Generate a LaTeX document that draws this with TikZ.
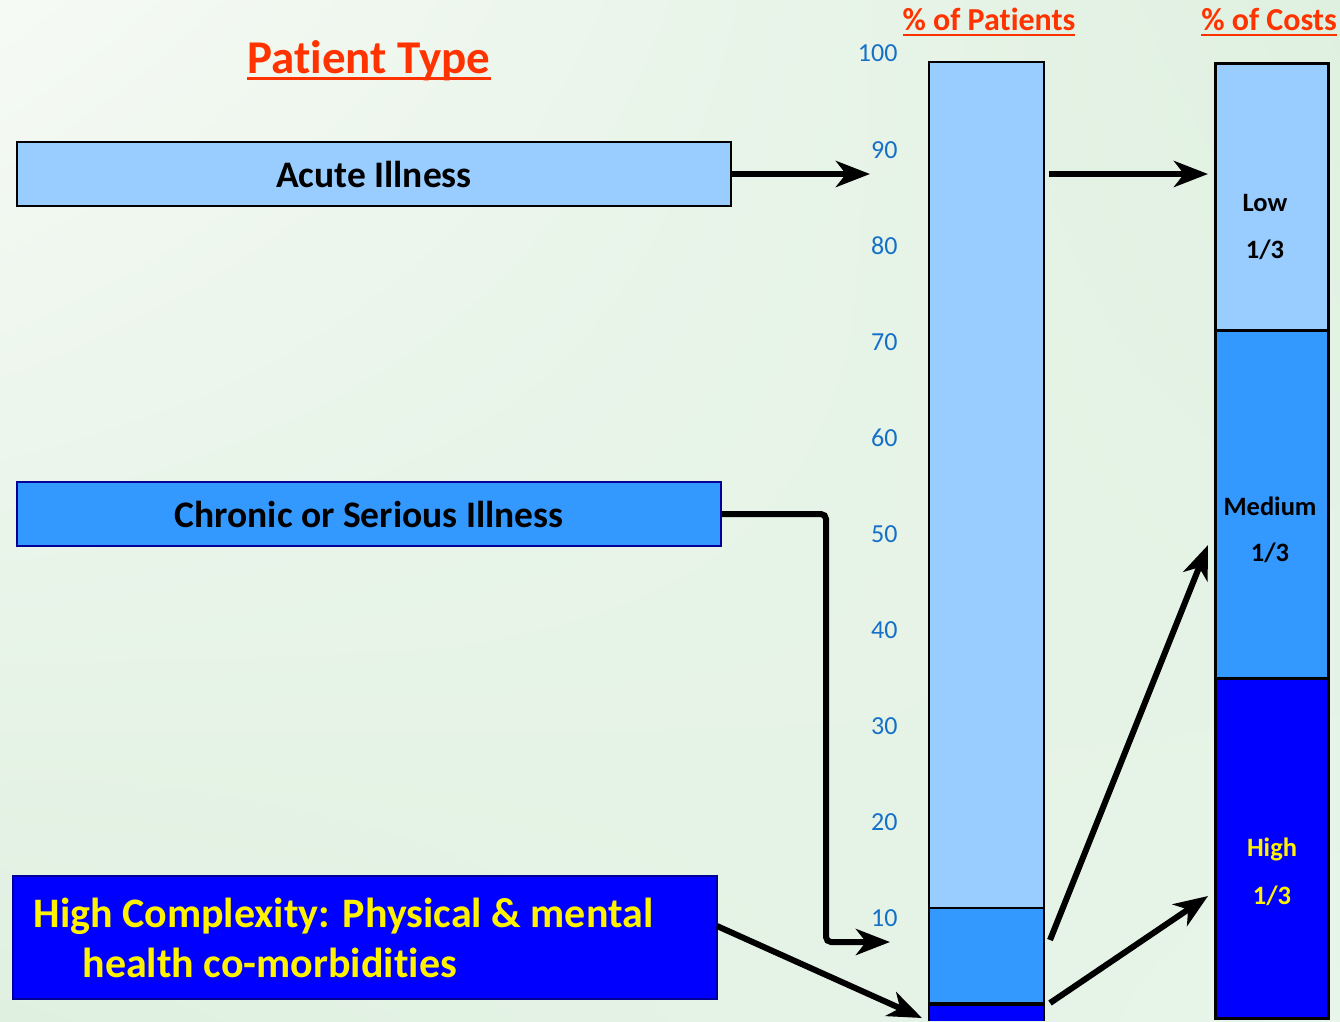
\documentclass[tikz,border=0pt]{standalone}
\usepackage{fontspec}
\setmainfont[Ligatures=NoCommon]{Carlito}
\usepackage{xcolor}
\usetikzlibrary{arrows.meta,shadings}
\pgfdeclarelayer{background}
\pgfsetlayers{background,main}
\definecolor{lowblue}{HTML}{99CCFF}
\definecolor{midblue}{HTML}{3399FF}
\definecolor{highblue}{HTML}{0000FF}
\definecolor{navyline}{HTML}{000099}
\definecolor{titlered}{HTML}{FF3300}
\definecolor{axisblue}{HTML}{1570C8}
\definecolor{bgpale}{HTML}{F6FAF5}
\definecolor{bggreen}{HTML}{DFF0E0}
\definecolor{bgmid}{HTML}{E8F5E9}
\newcommand{\titleline}[1]{\setbox0\hbox{#1}\rlap{\color{titlered}\rule[-6pt]{\wd0}{2.5pt}}\box0}

\begin{document}
\begin{tikzpicture}[x=1pt,y=-1pt,
  fat/.style={line width=6pt, -{Stealth[length=34pt,width=26pt,inset=10pt]}},
  typebox/.style={draw, line width=2pt, minimum height=64pt, inner sep=0pt,
    font=\fontsize{37.5}{42}\selectfont\bfseries},
  seg/.style={draw=black, line width=2.5pt, inner sep=0pt, anchor=north west}]
  \useasboundingbox (0,0) rectangle (1340,1021);
  \begin{pgfonlayer}{background}
  \shade[upper left=bgpale, upper right=bggreen, lower left=bggreen, lower right=bgmid] (0,0) rectangle (1340,1021);
  \end{pgfonlayer}

  % titles
  \node[text=titlered, font=\fontsize{47}{52}\selectfont\bfseries] (ptype) at (369,61) {\titleline{Patient Type}};
  \node[text=titlered, font=\fontsize{32}{36}\selectfont\bfseries] (ppct) at (989,22) {\titleline{\% of Patients}};
  \node[text=titlered, font=\fontsize{32}{36}\selectfont\bfseries] (cpct) at (1269,22) {\titleline{\% of Costs}};

  % axis
  \node[text=axisblue, font=\fontsize{26}{28}\selectfont, anchor=east] (t100) at (901,53) {100};
  \foreach \v in {1,...,9}
    \node[text=axisblue, font=\fontsize{26}{28}\selectfont, anchor=east] (t\v0) at (901,{1014-96*\v}) {\v0};

  % patient types
  \node[typebox, fill=lowblue, minimum width=714pt] (acute) at (374,174) {Acute Illness};
  \node[typebox, draw=navyline, fill=midblue, minimum width=704pt] (chronic) at (369,514) {Chronic or Serious Illness};
  \node[typebox, draw=navyline, fill=highblue, minimum width=704pt, minimum height=123pt] (complex) at (365,937.5) {};
  \node[text=yellow, font=\fontsize{42}{50}\selectfont\bfseries, align=left, anchor=west] (complextxt) at (30,938)
    {High Complexity: Physical \& mental\\\hspace*{49pt}health co-morbidities};

  % patients bar
  \fill[lowblue] (929,62) rectangle (1044,908);
  \fill[midblue] (929,908) rectangle (1044,1004);
  \fill[highblue] (929,1004) rectangle (1044,1021);
  \draw[line width=2.5pt] (929,1021) -- (929,62) -- (1044,62) -- (1044,1021);
  \draw[line width=2.5pt] (929,908) -- (1044,908);
  \draw[line width=4.5pt] (929,1004) -- (1044,1004);

  % costs bar
  \node[seg, fill=lowblue, minimum width=113pt, minimum height=267pt] (clow) at (1214,62) {};
  \node[seg, fill=midblue, minimum width=113pt, minimum height=348pt] (cmid) at (1214,329) {};
  \node[seg, fill=highblue, minimum width=113pt, minimum height=340pt] (chigh) at (1214,677) {};
  \begin{scope}[font=\fontsize{26.5}{28}\selectfont\bfseries]
    \node (lowa) at (1265,203) {Low};
    \node (lowb) at (1265,250) {1/3};
    \node (meda) at (1270,506) {Medium};
    \node (medb) at (1270,553) {1/3};
    \node[text=yellow] (higha) at (1272,849) {High};
    \node[text=yellow] (highb) at (1272,896) {1/3};
  \end{scope}

  % arrow ends
  \coordinate (a90) at (870,174);
  \coordinate (plowout) at (1049,174);
  \coordinate (clowin) at (1208,174);
  \coordinate (bend) at (826,514);
  \coordinate (drop) at (826,942);
  \coordinate (a08) at (890,942);
  \coordinate (complexout) at (717,926);
  \coordinate (pbottom) at (922,1018);
  \coordinate (pmidout) at (1050,940);
  \coordinate (cmidin) at (1208,545);
  \coordinate (phighout) at (1050,1003);
  \coordinate (chighin) at (1208,896);

  \draw[fat] (acute.east) -- (a90);
  \draw[fat] (plowout) -- (clowin);
  \draw[fat, rounded corners=5pt] (chronic.east) -- (bend) -- (drop) -- (a08);
  \draw[fat] (complexout) -- (pbottom);
  \draw[fat] (pmidout) -- (cmidin);
  \draw[fat] (phighout) -- (chighin);
\end{tikzpicture}
\end{document}
